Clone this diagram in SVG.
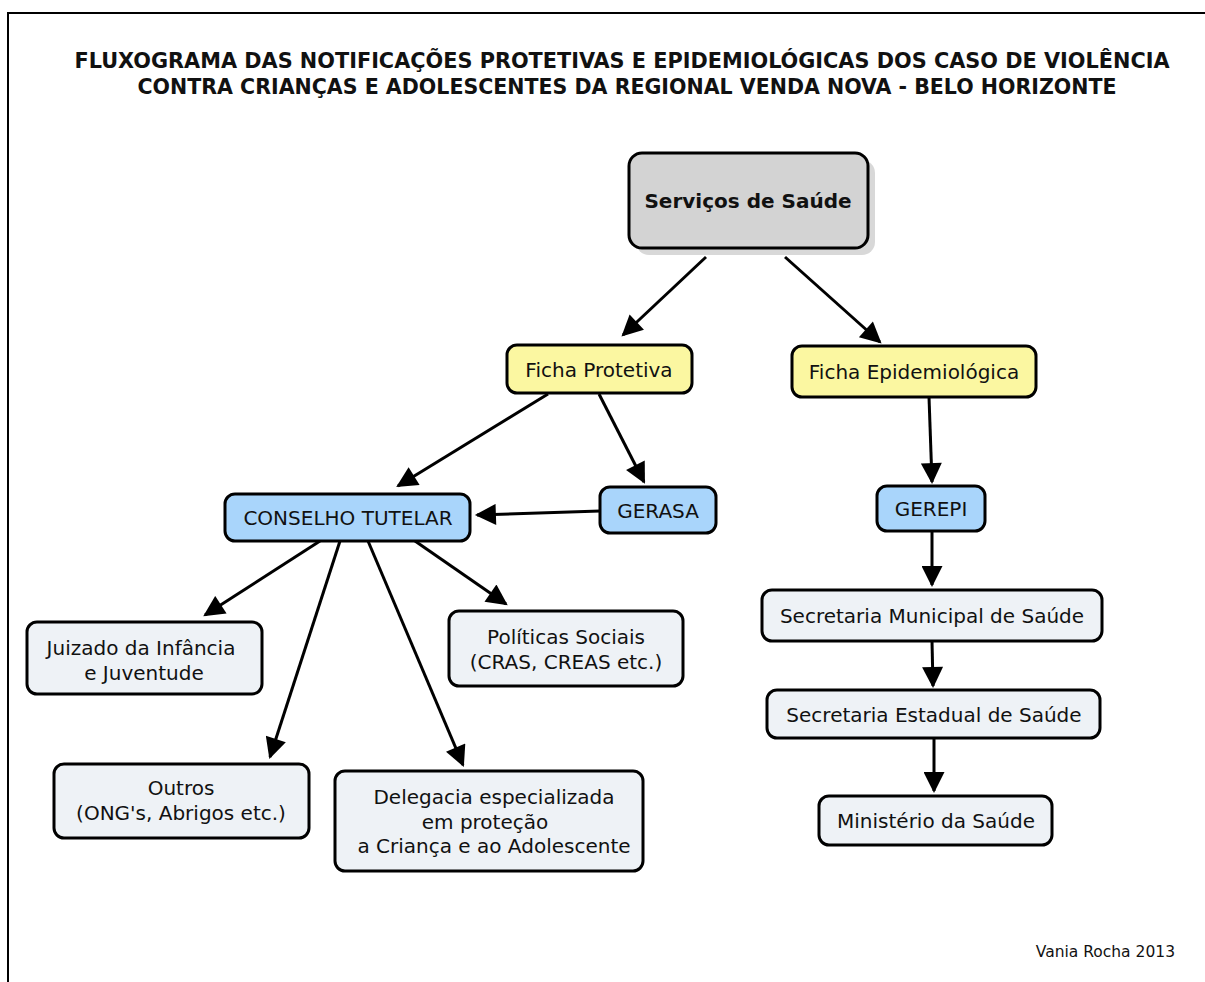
<svg xmlns="http://www.w3.org/2000/svg" width="1205" height="982" viewBox="0 0 1205 982">
<style>
.t{font-family:"DejaVu Sans",Verdana,sans-serif;font-size:20px;fill:#111;text-anchor:middle}
.b{font-weight:bold}
.hd{font-family:"DejaVu Sans Condensed","DejaVu Sans",sans-serif;font-size:22px;font-weight:bold}
.box{stroke:#000;stroke-width:3}
.gray{fill:#d3d3d3}
.yel{fill:#fbf7a1}
.blue{fill:#a9d5fb}
.lt{fill:#eef2f6}
.c{stroke:#000;stroke-width:3;fill:none;marker-end:url(#ah)}
</style>
<defs>
<marker id="ah" viewBox="0 0 10 10" refX="9" refY="5" markerWidth="23" markerHeight="21" markerUnits="userSpaceOnUse" orient="auto">
<path d="M0,0 L10,5 L0,10 z" fill="#000"/>
</marker>
</defs>
<rect width="1205" height="982" fill="#fff"/>
<path d="M8,982 V13 H1205" fill="none" stroke="#000" stroke-width="2"/>
<g id="title">
<text class="t hd" x="622" y="68" textLength="1095" lengthAdjust="spacingAndGlyphs">FLUXOGRAMA DAS NOTIFICAÇÕES PROTETIVAS E EPIDEMIOLÓGICAS DOS CASO DE VIOLÊNCIA</text>
<text class="t hd" x="627" y="94" textLength="979" lengthAdjust="spacingAndGlyphs">CONTRA CRIANÇAS E ADOLESCENTES DA REGIONAL VENDA NOVA - BELO HORIZONTE</text>
</g>
<g id="connectors">
<line class="c" x1="706" y1="257" x2="623" y2="335"/>
<line class="c" x1="785" y1="257" x2="880" y2="342"/>
<line class="c" x1="548" y1="394" x2="398" y2="486"/>
<line class="c" x1="599" y1="394" x2="644" y2="482"/>
<line class="c" x1="600" y1="511" x2="477" y2="515"/>
<line class="c" x1="320" y1="541" x2="205" y2="615"/>
<line class="c" x1="340" y1="541" x2="270" y2="757"/>
<line class="c" x1="368" y1="541" x2="463" y2="765"/>
<line class="c" x1="415" y1="541" x2="506" y2="604"/>
<line class="c" x1="929" y1="397" x2="932" y2="482"/>
<line class="c" x1="932" y1="531" x2="932" y2="585"/>
<line class="c" x1="932" y1="641" x2="933" y2="686"/>
<line class="c" x1="934" y1="738" x2="934" y2="791"/>
</g>
<g id="servicos">
<rect x="636" y="160" width="239" height="95" rx="13" fill="#c8c8c8" opacity="0.7"/>
<rect class="box gray" x="629" y="153" width="239" height="95" rx="13"/>
<text class="t b" x="748" y="208">Serviços de Saúde</text>
</g>
<g id="ficha-protetiva">
<rect class="box yel" x="507" y="345" width="185" height="48" rx="10"/>
<text class="t" x="599" y="377">Ficha Protetiva</text>
</g>
<g id="ficha-epi">
<rect class="box yel" x="792" y="346" width="244" height="51" rx="10"/>
<text class="t" x="914" y="379">Ficha Epidemiológica</text>
</g>
<g id="gerasa">
<rect class="box blue" x="600" y="487" width="116" height="46" rx="10"/>
<text class="t" x="658" y="518">GERASA</text>
</g>
<g id="conselho">
<rect class="box blue" x="225" y="494" width="245" height="47" rx="10"/>
<text class="t" x="348" y="525">CONSELHO TUTELAR</text>
</g>
<g id="gerepi">
<rect class="box blue" x="877" y="486" width="108" height="45" rx="10"/>
<text class="t" x="931" y="516">GEREPI</text>
</g>
<g id="juizado">
<rect class="box lt" x="27" y="622" width="235" height="72" rx="10"/>
<text class="t" x="141" y="655">Juizado da Infância</text>
<text class="t" x="144" y="680">e Juventude</text>
</g>
<g id="outros">
<rect class="box lt" x="54" y="764" width="255" height="74" rx="10"/>
<text class="t" x="181" y="795">Outros</text>
<text class="t" x="181" y="820">(ONG's, Abrigos etc.)</text>
</g>
<g id="delegacia">
<rect class="box lt" x="335" y="771" width="308" height="100" rx="10"/>
<text class="t" x="494" y="804">Delegacia especializada</text>
<text class="t" x="485" y="829">em proteção</text>
<text class="t" x="494" y="853">a Criança e ao Adolescente</text>
</g>
<g id="politicas">
<rect class="box lt" x="449" y="611" width="234" height="75" rx="10"/>
<text class="t" x="566" y="644">Políticas Sociais</text>
<text class="t" x="566" y="669">(CRAS, CREAS etc.)</text>
</g>
<g id="sec-municipal">
<rect class="box lt" x="762" y="590" width="340" height="51" rx="10"/>
<text class="t" x="932" y="623">Secretaria Municipal de Saúde</text>
</g>
<g id="sec-estadual">
<rect class="box lt" x="767" y="690" width="333" height="48" rx="10"/>
<text class="t" x="934" y="722">Secretaria Estadual de Saúde</text>
</g>
<g id="ministerio">
<rect class="box lt" x="819" y="796" width="233" height="49" rx="10"/>
<text class="t" x="936" y="828">Ministério da Saúde</text>
</g>
<text class="t" x="1175" y="957" style="font-size:15.5px;text-anchor:end">Vania Rocha 2013</text>
</svg>
